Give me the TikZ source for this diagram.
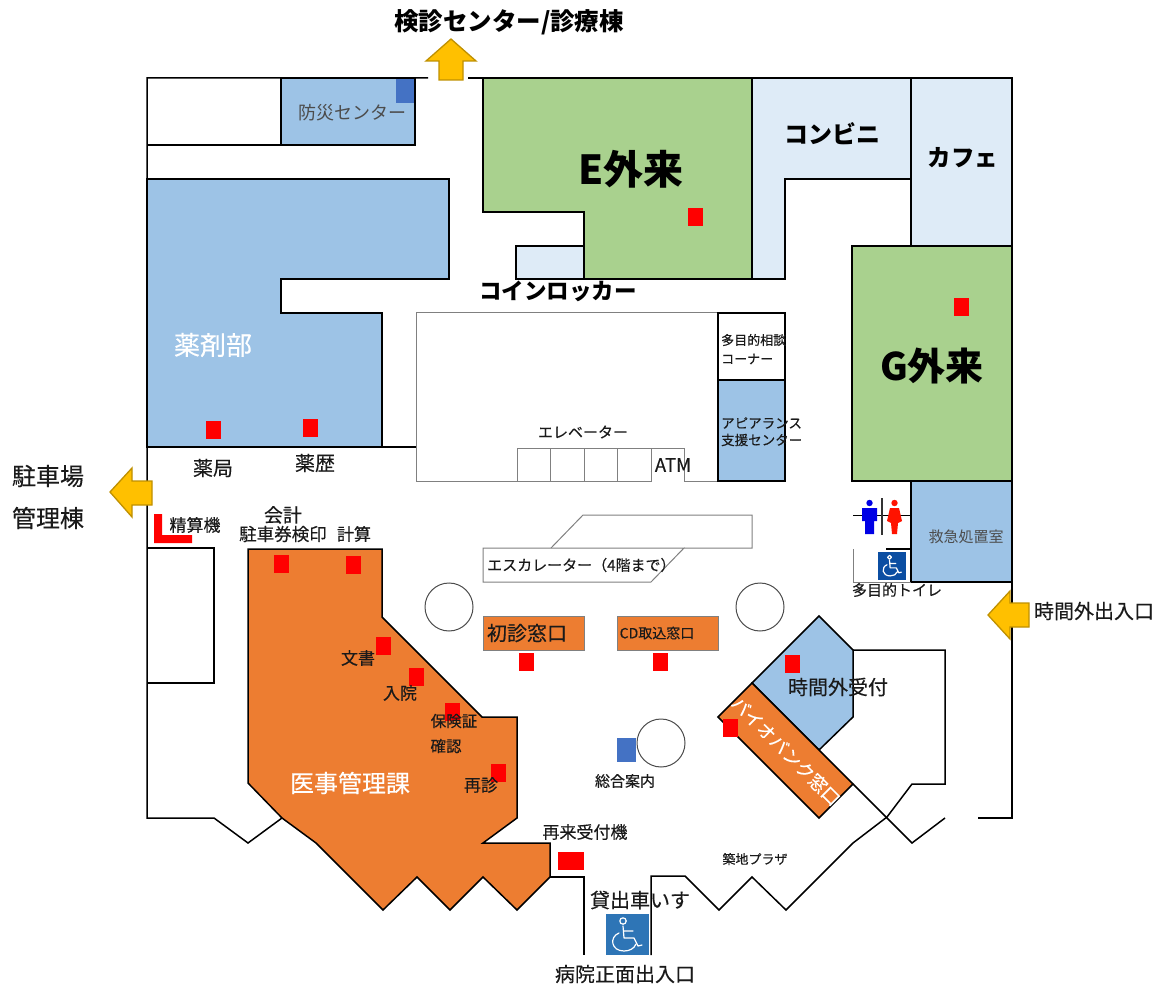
\documentclass[tikz,border=0pt]{standalone}
\usepackage{fontspec}
\setmainfont{Noto Sans CJK JP}
\newfontfamily\medfont[FakeBold=0.35]{Noto Sans CJK JP}
\definecolor{roomblue}{HTML}{9DC3E6}
\definecolor{paleblue}{HTML}{DEEBF7}
\definecolor{roomgreen}{HTML}{A9D18E}
\definecolor{roomorange}{HTML}{ED7D31}
\definecolor{signblue}{HTML}{4472C4}
\definecolor{chairblue}{HTML}{2E75B6}
\definecolor{toiletblue}{HTML}{0B4EA2}
\definecolor{arrowfill}{HTML}{FFC000}
\definecolor{arrowline}{HTML}{BF9000}
\definecolor{inktext}{HTML}{1A1A1A}
\tikzset{
  wall/.style={line width=1.5pt, line join=miter},
  thinwall/.style={line width=1pt, draw=black!50},
  room/.style={wall, draw=black, fill=#1},
  exitarrow/.style={line width=1.3pt, draw=arrowline, fill=arrowfill, line join=miter},
  lab/.style={inner sep=0pt, text=inktext, font=\fontsize{#1}{#1}\medfont},
  plainlab/.style={inner sep=0pt, text=black!70, font=\fontsize{#1}{#1}\selectfont},
  blab/.style={inner sep=0pt, text=black, font=\fontsize{#1}{#1}\selectfont\bfseries},
  wlab/.style={inner sep=0pt, text=white, font=\fontsize{#1}{#1}\medfont},
  chairicon/.pic={
    \draw[white, line width=1.2pt, line cap=round, line join=round]
      (-4,-14) circle [radius=3.2]
      (-4,-9)--(-3,3)--(7,3)--(11,11)--(15,10)
      (-3,-4)--(6,-4);
    \draw[white, line width=1.2pt, line cap=round]
      (-8,-2) .. controls (-18,2) and (-16,16) .. (-3,16) .. controls (2,16) and (7,14) .. (9,9);
  }
}
\begin{document}
\begin{tikzpicture}[x=1pt, y=-1pt]
\useasboundingbox (0,0) rectangle (1165,1000);

% rooms
\draw[room=roomblue] (281,78) rectangle (415,145);
\fill[signblue] (396,78) rectangle (415,103);
\draw[wall] (281,78) rectangle (415,145);
\draw[wall] (147,145)--(281,145);
\draw[room=roomblue] (147,179)--(449,179)--(449,279)--(281,279)--(281,313)--(382,313)--(382,447)--(147,447)--cycle;
\draw[room=roomgreen] (483,78)--(752,78)--(752,279)--(584,279)--(584,212)--(483,212)--cycle;
\draw[room=paleblue] (516,246) rectangle (584,279);
\draw[room=paleblue] (752,78)--(911,78)--(911,179)--(785,179)--(785,279)--(752,279)--cycle;
\draw[room=paleblue] (911,78) rectangle (1012,246);
\draw[room=roomgreen] (852,246) rectangle (1012,481);
\draw[room=roomblue] (911,481) rectangle (1012,582);
\draw[wall] (147,548)--(214,548)--(214,683)--(147,683);

% central block
\draw[thinwall] (718,313)--(416,313)--(416,481)--(651,481)--(651,448)--(684,448)--(684,481)--(718,481);
\foreach \x in {517,550,584,617,651}
{
   \draw[thinwall] (\x,448)--(\x,481);
}
\draw[thinwall] (517,448)--(651,448);
\draw[wall] (382,447)--(416,447);
\draw[wall] (718,313) rectangle (785,380);
\draw[room=roomblue] (718,380) rectangle (785,481);

% escalator
\draw[thinwall] (551,548)--(583,515)--(752,515)--(752,548)--(684,548);
\draw[thinwall] (684,548)--(651,582)--(483,582)--(483,548)--cycle;

% pillars
\foreach \x/\y in {449/607, 760/607, 661/743}
{
   \draw[thinwall, draw=black!70] (\x,\y) circle [radius=24];
}

% counters
\draw[thinwall, fill=roomorange] (483,616) rectangle (584,650);
\draw[thinwall, fill=roomorange] (617,616) rectangle (718,650);
\draw[room=roomorange] (248,549)--(382,549)--(382,617)--(482,717)--(517,717)--(517,818)--(483,843)--(550,843)--(550,877)--(517,910)--(483,877)--(450,910)--(417,877)--(383,910)--(316,843)--(282,818)--(248,783)--cycle;
\draw[room=roomblue] (752,683)--(819,616)--(853,650)--(853,717)--(819,750)--cycle;
\draw[room=roomorange] (752,683)--(718,717)--(819,818)--(853,784)--cycle;

% outer walls
\draw[wall] (428,78)--(147,78)--(147,818)--(214,818)--(248,843)--(282,818);
\draw[wall] (468,78)--(1012,78)--(1012,818)--(978,818);
\draw[wall] (550,877)--(584,877)--(584,955);
\draw[wall] (651,955)--(651,876)--(685,876)--(719,910)--(752,877)--(786,910)--(853,843)--(887,817)--(912,784)--(945,784)--(945,650)--(853,650);
\draw[wall] (853,784)--(912,843)--(945,818);

% toilets
\draw[line width=1pt] (853,515)--(911,515);
\draw[line width=1.6pt, draw=black!80] (882,498)--(882,535);
\draw[thinwall] (853,549)--(853,582)--(911,582);
\draw[wall] (886,549)--(911,549);
\fill[blue!90!black] (869.5,503) circle [radius=3.2];
\fill[blue!90!black] (862,508)--(877,508)--(877,521)--(874,521)--(874,534)--(865,534)--(865,521)--(862,521)--cycle;
\fill[red!85!orange] (894.5,503) circle [radius=3.2];
\fill[red!85!orange] (890,508)--(899,508)--(902,521)--(898,523)--(897,534)--(892,534)--(891,523)--(887,521)--cycle;
\fill[toiletblue] (878,552) rectangle (906,580);
\pic[scale=.62] at (892,566) {chairicon};
\fill[chairblue] (606,914) rectangle (649,955);
\pic at (627,935) {chairicon};

% red markers
\foreach \x/\y in {213/430, 310/428, 695/217, 961/307, 281/564, 353/565, 383/646, 416/677, 452/712, 498/773, 526/662, 660/662, 792/664, 730/728}
{
   \fill[red] (\x-7.5,\y-9) rectangle (\x+7.5,\y+9);
}
\fill[red] (558,852) rectangle (584,870);
\fill[red] (154,514)--(162,514)--(162,535)--(192,535)--(192,543)--(154,543)--cycle;
\fill[signblue] (617,738) rectangle (636,762);

% exits
\draw[exitarrow] (451,39)--(476,61)--(463,61)--(463,80)--(439,80)--(439,61)--(426,61)--cycle;
\draw[exitarrow] (110,492)--(132,468)--(132,481)--(152,481)--(152,505)--(132,505)--(132,517)--cycle;
\draw[exitarrow] (988,615)--(1010,591)--(1010,603)--(1029,603)--(1029,627)--(1010,627)--(1010,639)--cycle;

% labels
\node[blab=24.5] (kenshin) at (509,22){検診センター/診療棟};
\node[plainlab=18] (bosai) at (352,113){防災センター};
\node[blab=40] (egairai) at (631,169){E外来};
\node[blab=24] (konbini) at (832,134){コンビニ};
\node[blab=23.5] (cafe) at (963,158){カフェ};
\node[wlab=26] (yakuzai) at (213,345){薬剤部};
\node[blab=22.5] (locker) at (558,291){コインロッカー};
\node[blab=38] (ggairai) at (932,366){G外来};
\node[lab=13, anchor=west] (soudan) at (721,340){多目的相談};
\node[lab=13, anchor=west] (corner) at (721,359){コーナー};
\node[lab=13.5, anchor=west] (appear) at (721,423){アピアランス};
\node[lab=13.5, anchor=west] (shien) at (721,440){支援センター};
\node[lab=15] (elev) at (583,432){エレベーター};
\node[lab=18.5] (atm) at (673,465){ATM};
\node[lab=15, anchor=west] (escal) at (487,565){エスカレーター（4階まで）};
\node[lab=20] (yakkyoku) at (213,468){薬局};
\node[lab=20] (yakureki) at (315,463){薬歴};
\node[lab=24] (chusha) at (48,476){駐車場};
\node[lab=24] (kanri) at (48,518){管理棟};
\node[lab=17] (seisan) at (195,525){精算機};
\node[lab=19] (kaikei) at (283,515){会計};
\node[lab=17.5] (kenin) at (283,534){駐車券検印};
\node[lab=17] (keisan) at (354,534){計算};
\node[lab=20] (shoshin) at (527,633){初診窓口};
\node[lab=14] (cdmado) at (657,633){CD取込窓口};
\node[lab=17] (bunsho) at (358,658){文書};
\node[lab=17] (nyuin) at (400,693){入院};
\node[lab=15.5] (hoken) at (454,721){保険証};
\node[lab=15.5] (kakunin) at (446,746){確認};
\node[lab=17] (saishin) at (481,785){再診};
\node[wlab=24] (iji) at (350,783){医事管理課};
\node[lab=17] (sairai) at (585,832){再来受付機};
\node[lab=15] (sogo) at (625,781){総合案内};
\node[lab=13] (plaza) at (755,859){築地プラザ};
\node[lab=20] (kashi) at (640,900){貸出車いす};
\node[lab=20] (shomen) at (625,974){病院正面出入口};
\node[lab=20] (jikan) at (838,687){時間外受付};
\node[wlab=18, rotate=-45] (bio) at (786,751){バイオバンク窓口};
\node[plainlab=15] (kyukyu) at (966,537){救急処置室};
\node[lab=15] (toilet) at (897,590){多目的トイレ};
\node[lab=20] (jikande) at (1094,611){時間外出入口};
\end{tikzpicture}
\end{document}
